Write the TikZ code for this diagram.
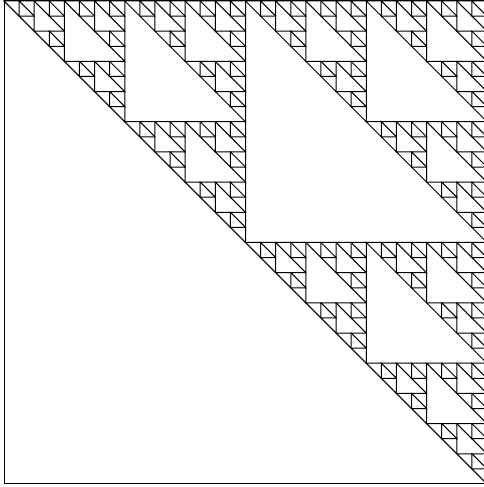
\documentclass[tikz,border=0pt]{standalone}
\tikzset{edge/.style={line width=1pt, draw=black, line join=miter}}
\def\sierp#1#2#3#4{%
  \ifnum#4=0\relax
    \draw[edge] (#1,#2) -- ++(#3,0) -- ++(0,-#3) -- cycle;
  \else
    \begingroup
    \pgfmathsetmacro\hL{#3/2}%
    \pgfmathsetmacro\xm{#1+\hL}%
    \pgfmathsetmacro\ym{#2-\hL}%
    \pgfmathtruncatemacro\dd{#4-1}%
    \edef\next{\noexpand\sierp{#1}{#2}{\hL}{\dd}\noexpand\sierp{\xm}{#2}{\hL}{\dd}\noexpand\sierp{\xm}{\ym}{\hL}{\dd}}%
    \next
    \endgroup
  \fi}
\begin{document}
\begin{tikzpicture}[x=1pt,y=1pt]
\useasboundingbox (0,0) rectangle (484,487);
\clip (0,0) rectangle (484,487);
\draw[edge] (4,3) rectangle (487,486);
\draw[edge] (4,486) -- (487,3);
\sierp{4}{486}{483}{5}
\end{tikzpicture}
\end{document}
